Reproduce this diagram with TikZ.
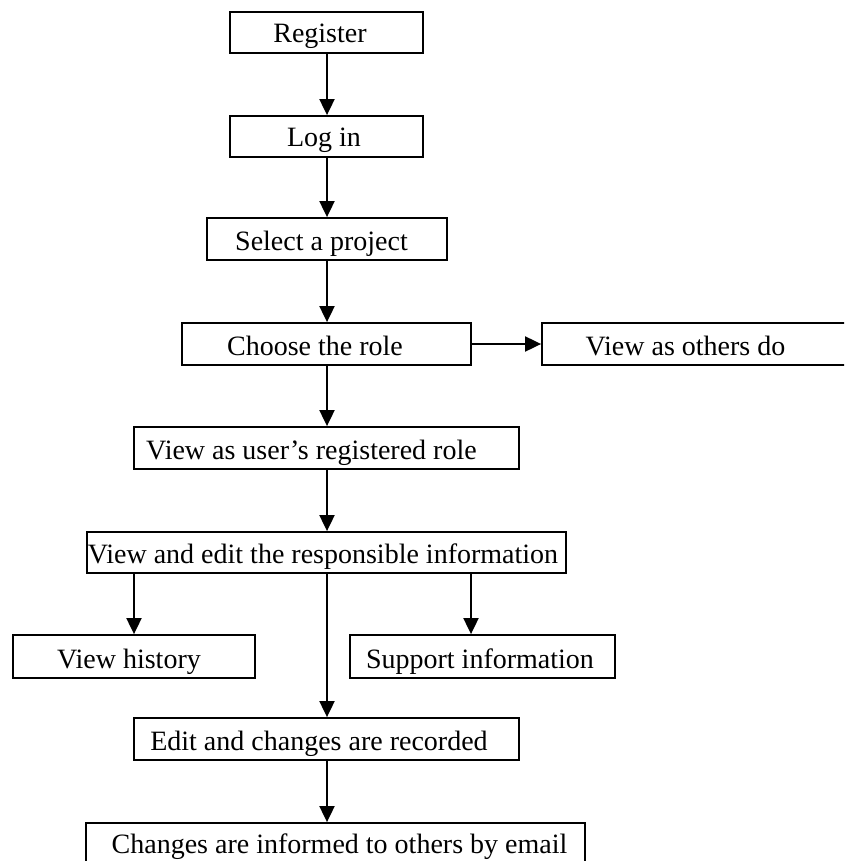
\documentclass[tikz,border=0pt]{standalone}
\usepackage{fontspec}
\setmainfont{Liberation Serif}
\usetikzlibrary{arrows.meta}
\begin{document}
\begin{tikzpicture}[x=1pt,y=-1pt,
  box/.style={draw=black,line width=1.8pt,rectangle,inner sep=0pt,fill=none},
  txt/.style={anchor=base,inner sep=0pt,font=\fontsize{28}{34}\selectfont},
  arr/.style={line width=1.9pt,-{Triangle[length=16pt,width=15pt]}}]
\clip (0,0) rectangle (844,861);
\fill[white] (0,0) rectangle (844,861);
% boxes
\node[box,minimum width=193pt,minimum height=41pt] (reg) at (326.5,32.5) {};
\node[box,minimum width=193pt,minimum height=41pt] (login) at (326.5,136.5) {};
\node[box,minimum width=240pt,minimum height=42pt] (sel) at (327,239) {};
\node[box,minimum width=289pt,minimum height=42pt] (choose) at (326.5,344) {};
\node[box,minimum width=328pt,minimum height=42pt] (others) at (706,344) {};
\node[box,minimum width=385pt,minimum height=42pt] (user) at (326.5,448) {};
\node[box,minimum width=479pt,minimum height=41pt] (ve) at (326.5,552.5) {};
\node[box,minimum width=242pt,minimum height=43pt] (hist) at (134,656.5) {};
\node[box,minimum width=265pt,minimum height=43pt] (sup) at (482.5,656.5) {};
\node[box,minimum width=385pt,minimum height=42pt] (edit) at (326.5,739) {};
\node[box,minimum width=499pt,minimum height=43pt] (chg) at (335.5,844.5) {};
% texts
\node[txt] (treg) at (320,43) {Register};
\node[txt] (tlogin) at (324,147) {Log in};
\node[txt] (tsel) at (321.5,250) {Select a project};
\node[txt] (tchoose) at (315,355) {Choose the role};
\node[txt] (tothers) at (685.5,355) {View as others do};
\node[txt] (tuser) at (311.5,459) {View as user’s registered role};
\node[txt] (tve) at (323,563) {View and edit the responsible information};
\node[txt] (thist) at (129,668) {View history};
\node[txt] (tsup) at (480,668) {Support information};
\node[txt] (tedit) at (319,750) {Edit and changes are recorded};
\node[txt] (tchg) at (339.5,853) {Changes are informed to others by email};
% connectors
\coordinate (mx) at (327,0);
\coordinate (sx) at (471,0);
\draw[arr] (reg.south -| mx) -- (login.north -| mx);
\draw[arr] (login.south -| mx) -- (sel.north -| mx);
\draw[arr] (sel.south -| mx) -- (choose.north -| mx);
\draw[arr] (choose.east) -- (others.west);
\draw[arr] (choose.south -| mx) -- (user.north -| mx);
\draw[arr] (user.south -| mx) -- (ve.north -| mx);
\draw[arr] (ve.south -| hist.north) -- (hist.north);
\draw[arr] (ve.south -| sx) -- (sup.north -| sx);
\draw[arr] (ve.south -| mx) -- (edit.north -| mx);
\draw[arr] (edit.south -| mx) -- (chg.north -| mx);
\end{tikzpicture}
\end{document}
